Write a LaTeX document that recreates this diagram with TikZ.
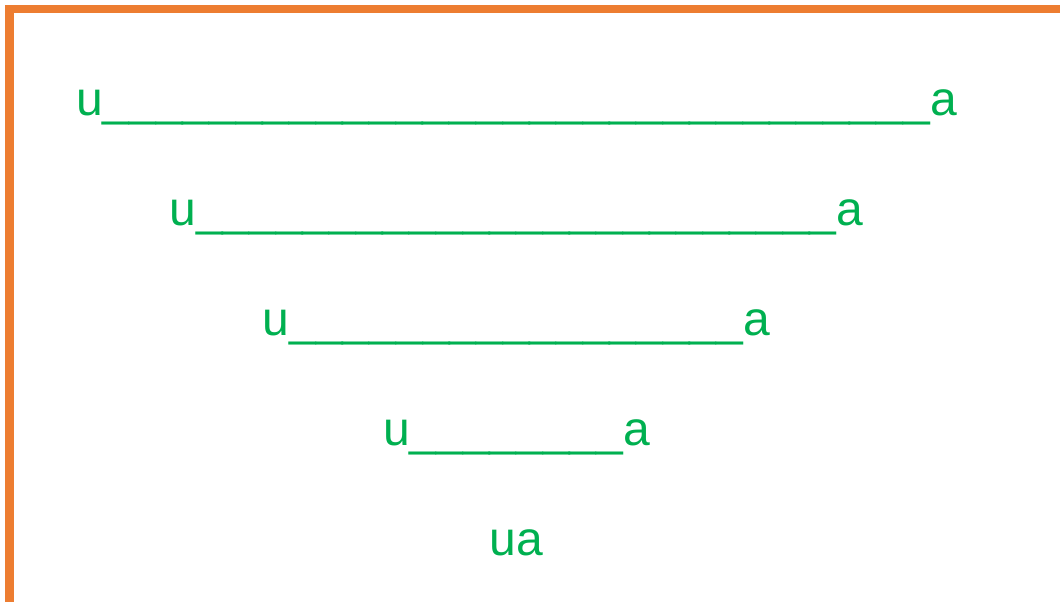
\documentclass[tikz,border=0pt]{standalone}
\usepackage{fontspec}
\setmainfont{Liberation Sans}
\definecolor{frameorange}{RGB}{237,125,49}
\definecolor{txtgreen}{RGB}{0,176,80}
\tikzset{
  rowtext/.style={anchor=base, inner sep=0pt, text=txtgreen, font=\fontsize{48}{58}\selectfont},
  frame/.style={draw=frameorange, line width=8.5pt}
}
\begin{document}
\begin{tikzpicture}[x=1pt,y=-1pt]
\useasboundingbox (0,0) rectangle (1060,602);
\begin{scope}
\clip (0,0) rectangle (1060,602);
\draw[frame] (9.25,9.25) rectangle (1070,606.5);
\end{scope}
\node[rowtext] (r1) at (516.5,115.5) {u\_\_\_\_\_\_\_\_\_\_\_\_\_\_\_\_\_\_\_\_\_\_\_\_\_\_\_\_\_\_\_a};
\node[rowtext] (r2) at (516.5,225.5) {u\_\_\_\_\_\_\_\_\_\_\_\_\_\_\_\_\_\_\_\_\_\_\_\_a};
\node[rowtext] (r3) at (516.5,335.5) {u\_\_\_\_\_\_\_\_\_\_\_\_\_\_\_\_\_a};
\node[rowtext] (r4) at (516.5,445.5) {u\_\_\_\_\_\_\_\_a};
\node[rowtext] (r5) at (516.5,555) {ua};
\end{tikzpicture}
\end{document}
